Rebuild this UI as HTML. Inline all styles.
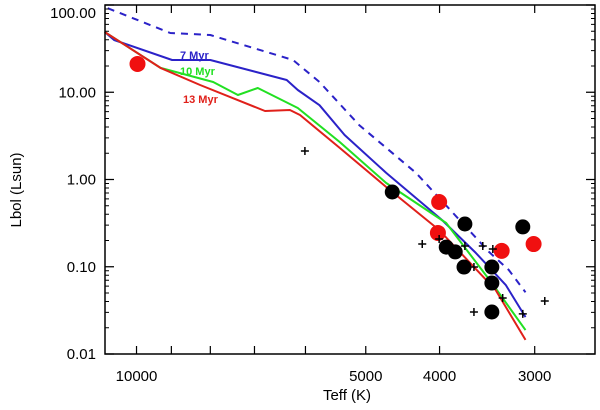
<!DOCTYPE html>
<html><head><meta charset="utf-8"><style>
html,body{margin:0;padding:0;background:#fff;}
svg{display:block;font-family:"Liberation Sans",sans-serif;}
</style></head><body>
<svg id="chart" width="600" height="410" viewBox="0 0 600 410"></svg>
<script>
const xTicks=[10000,9000,8000,7000,6000,5000,4000,3000];
const xTickLabels=["10000","","","","","5000","4000","3000"];
const yTicks=[100,10,1,0.1,0.01];
const yTickLabels=["100.00","10.00","1.00","0.10","0.01"];
const iso7dashT=[10910,9030,8000,6230,5750,5100,4295,3445,3245,3085];
const iso7dashL=[92,47.8,45.3,23.4,13.1,4.2,1.19,0.148,0.092,0.051];
const iso7T=[11010,10700,8980,8000,6350,6140,5750,5330,4700,3970,3585,3275,3085];
const iso7L=[49,39.7,23.4,23.4,13.8,10.6,7.1,3.24,1.19,0.343,0.144,0.062,0.0265];
const iso10T=[11010,9300,7930,7360,6930,6140,5410,4700,3920,3415,3085];
const iso10L=[49,19,13.1,9.3,11.2,6.6,2.69,0.912,0.317,0.065,0.0188];
const iso13T=[11010,9300,8250,6780,6290,6100,5410,4700,4005,3375,3085];
const iso13L=[49,19,12.1,6.1,6.26,5.49,2.3,0.82,0.264,0.054,0.0145];
const redT=[9970,4005,4020,3315,3010];
const redL=[21.1,0.552,0.244,0.152,0.182];
const blackT=[4615,3705,3110,3920,3815,3715,3415,3415,3415];
const blackL=[0.719,0.309,0.286,0.168,0.148,0.0993,0.0993,0.0651,0.0303];
const plusT=[4215,4005,3705,3510,3405,3605,3305,2910,3605,3110,6010];
const plusL=[0.182,0.208,0.173,0.173,0.160,0.0993,0.0438,0.0405,0.0303,0.0288,2.12];

const L=105,R=595,T=5,B=354;
const xMin=11000,xMax=2500,yMax=100,yMin=0.01;
const NS="http://www.w3.org/2000/svg";
const svg=document.getElementById('chart');
function X(t){return L+(Math.log10(xMin)-Math.log10(t))/(Math.log10(xMin)-Math.log10(xMax))*(R-L);}
function Y(v){return T+(Math.log10(yMax)-Math.log10(v))/(Math.log10(yMax)-Math.log10(yMin))*(B-T);}
function mk(tag,attrs,parent){const e=document.createElementNS(NS,tag);for(const k in attrs)e.setAttribute(k,attrs[k]);(parent||svg).appendChild(e);return e;}

function line(ts,ls,color,dash,name){
  const d=ts.map((t,i)=>(i?'L':'M')+X(t).toFixed(1)+','+Y(ls[i]).toFixed(1)).join(' ');
  const p=mk('path',{d:d,fill:'none',stroke:color,'stroke-width':2,'stroke-dasharray':dash||'none','stroke-linejoin':'round'});
  
  
}
line(iso7dashT,iso7dashL,'#2b22c8','7,6','isochrone-7myr-dashed');
line(iso7T,iso7L,'#2b22c8',null,'isochrone-7myr');
line(iso10T,iso10L,'#22e022',null,'isochrone-10myr');
line(iso13T,iso13L,'#e0201a',null,'isochrone-13myr');

redT.forEach((t,i)=>{const c=mk('circle',{cx:X(t),cy:Y(redL[i]),r:8,fill:'#f01010'});
  
  });
blackT.forEach((t,i)=>{const c=mk('circle',{cx:X(t),cy:Y(blackL[i]),r:7.5,fill:'#000'});
  
  });
plusT.forEach((t,i)=>{const x=X(t),y=Y(plusL[i]);
  const p=mk('path',{d:`M${x-4},${y}H${x+4}M${x},${y-4}V${y+4}`,stroke:'#000','stroke-width':1.5});
  
  });

[["7 Myr",180,59,'#2b22c8'],["10 Myr",180,75,'#22e022'],["13 Myr",183,103,'#e0201a']].forEach(a=>{
  const t=mk('text',{x:a[1],y:a[2],fill:a[3],'font-size':11,'font-weight':'bold'});t.textContent=a[0];
  
  });

const fr=mk('rect',{x:L,y:T,width:R-L,height:B-T,fill:'none',stroke:'#000','stroke-width':1.5});



xTicks.forEach((t,i)=>{const x=X(t);
  mk('path',{d:`M${x},${B}V${B-8}M${x},${T}V${T+8}`,stroke:'#000','stroke-width':1.2});
  if(xTickLabels[i]){const tx=mk('text',{x:x,y:381,'text-anchor':'middle','font-size':15});tx.textContent=xTickLabels[i];
    
    }
});
yTicks.forEach((v,i)=>{const y=Y(v);
  mk('path',{d:`M${L},${y}H${L+9}M${R},${y}H${R-9}`,stroke:'#000','stroke-width':1.2});
  const ly=Math.max(y+5,18);
  const tx=mk('text',{x:96,y:ly,'text-anchor':'end','font-size':15});tx.textContent=yTickLabels[i];
  
  
  if(i<yTicks.length-1){for(let m=2;m<10;m++){const ym=Y(v/10*m);
    mk('path',{d:`M${L},${ym}H${L+4}M${R},${ym}H${R-4}`,stroke:'#000','stroke-width':1});}}
});
const xt=mk('text',{x:347,y:400,'text-anchor':'middle','font-size':15});xt.textContent="Teff (K)";


const yt=mk('text',{x:0,y:0,'text-anchor':'middle','font-size':15,transform:'translate(21,190) rotate(-90)'});yt.textContent="Lbol (Lsun)";


</script>
</body></html>
